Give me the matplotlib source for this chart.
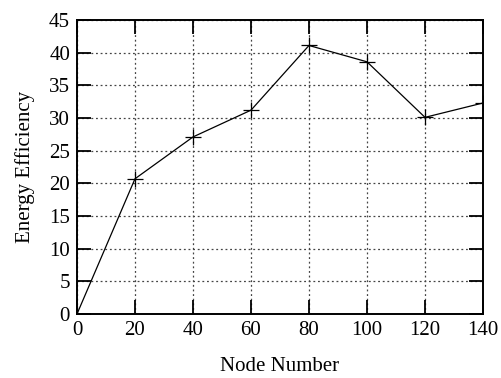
import matplotlib
matplotlib.use("Agg")
import matplotlib.pyplot as plt

# node count vs energy efficiency
nodes = [0, 20, 40, 60, 80, 100, 120, 140]
efficiency = [0, 20.7, 27.1, 31.2, 41.1, 38.6, 30.1, 32.3]

plt.rcParams['font.family'] = ['Liberation Serif', 'DejaVu Serif']

fig = plt.figure(figsize=(5.02, 3.78), dpi=100)
ax = fig.add_axes([77 / 502, 1 - 314 / 378, 406 / 502, 294 / 378])

ax.plot(nodes, efficiency, '-', color='black', linewidth=0.9,
        marker='+', markersize=11, markeredgewidth=0.9)

ax.set_xlim(0, 140)
ax.set_ylim(0, 45)
ax.set_xticks(range(0, 141, 20))
ax.set_yticks(range(0, 46, 5))
ax.grid(True, linestyle=(0, (1.5, 2.2)), color='#444444', linewidth=0.9)

ax.tick_params(direction='in', length=10, width=1.3, top=True, right=True,
               labelsize=15, pad=5)
for s in ax.spines.values():
    s.set_linewidth(1.4)

ax.set_xlabel('Node Number', fontsize=15, labelpad=12)
ax.set_ylabel('Energy Efficiency', fontsize=15, labelpad=10)

fig.savefig('out.png', dpi=100)
